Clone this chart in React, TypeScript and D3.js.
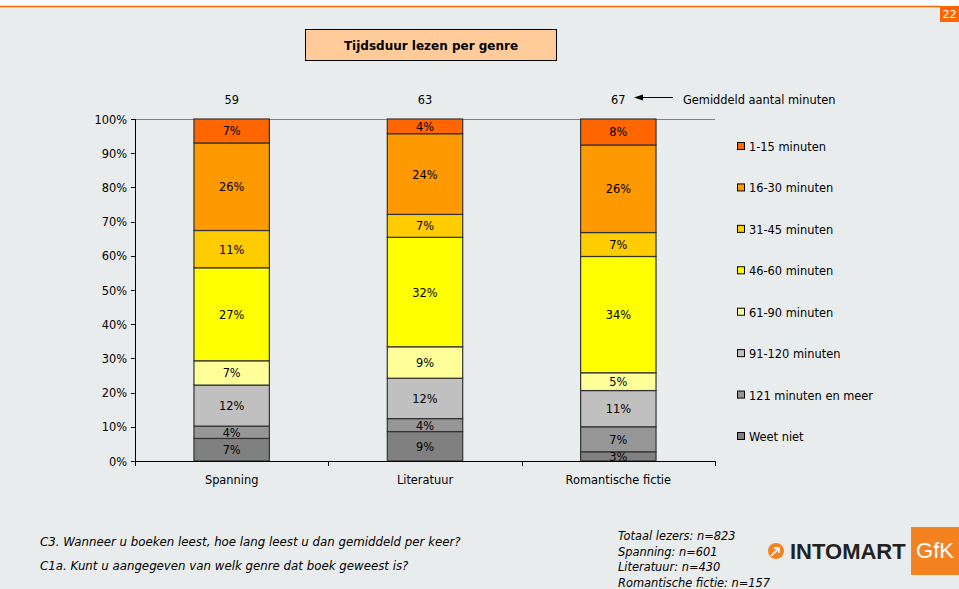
import React from "react";
import * as d3 from "d3";

const categories = ["Spanning", "Literatuur", "Romantische fictie"];
const averageMinutes = [59, 63, 67];
const seriesNames = [
  "Weet niet",
  "121 minuten en meer",
  "91-120 minuten",
  "61-90 minuten",
  "46-60 minuten",
  "31-45 minuten",
  "16-30 minuten",
  "1-15 minuten",
];
// percentage per series (bottom to top), one row per genre
const spanning = [6.6, 3.6, 12.0, 7.1, 27.2, 10.9, 25.6, 7.0];
const literatuur = [8.6, 3.8, 11.8, 9.2, 32.0, 6.7, 23.6, 4.3];
const romantisch = [2.7, 7.3, 10.6, 5.2, 34.0, 7.0, 25.6, 7.6];
const seriesColors = [
  "#808080",
  "#969696",
  "#C0C0C0",
  "#FFFF99",
  "#FFFF00",
  "#FFCC00",
  "#FF9900",
  "#FF6600",
];
const yTicks = [0, 10, 20, 30, 40, 50, 60, 70, 80, 90, 100];
const questions = [
  "C3. Wanneer u boeken leest, hoe lang leest u dan gemiddeld per keer?",
  "C1a. Kunt u aangegeven van welk genre dat boek geweest is?",
];
const sampleSizes = [
  "Totaal lezers: n=823",
  "Spanning: n=601",
  "Literatuur: n=430",
  "Romantische fictie: n=157",
];

const W = 959;
const H = 589;
const FONT = "'DejaVu Sans', Verdana, sans-serif";
const FS = 11.4;

export default function App() {
  const rows = [spanning, literatuur, romantisch];
  const table = categories.map((c, i) => {
    const o: Record<string, any> = { cat: c };
    seriesNames.forEach((s, j) => (o[s] = rows[i][j]));
    return o;
  });
  const stacked = d3.stack().keys(seriesNames)(table as any);

  const plot = { left: 135, right: 715, top: 119, bottom: 461 };
  const x = d3
    .scaleBand()
    .domain(categories)
    .range([plot.left, plot.right])
    .paddingInner(0.61)
    .paddingOuter(0.305);
  const y = d3.scaleLinear().domain([0, 100]).range([plot.bottom, plot.top]);
  const band = (plot.right - plot.left) / categories.length;
  const fmt = (v: number) => `${Math.round(v)}%`;

  const legendY = d3
    .scalePoint()
    .domain([...seriesNames].reverse())
    .range([147, 437]);

  return (
    <svg
      width={W}
      height={H}
      style={{ position: "absolute", left: 0, top: 0, display: "block" }}
      fontFamily={FONT}
    >
      <rect x={0} y={0} width={W} height={H} fill="#ffffff" />
      <rect x={0} y={7} width={W} height={H - 7} fill="#E9ECEC" />
      <line x1={0} x2={940} y1={6.5} y2={6.5} stroke="#FF6600" strokeWidth={1.5} />
      <rect x={940} y={6} width={19} height={16} fill="#FF6600" />
      <text x={949.5} y={18} textAnchor="middle" fontSize={11} fill="#ffffff">
        22
      </text>

      {/* title */}
      <rect x={305.5} y={29.5} width={251} height={31} fill="#FFCC99" stroke="#000" strokeWidth={1} />
      <text x={431} y={50} textAnchor="middle" fontSize={12} fontWeight="bold" fill="#000">
        Tijdsduur lezen per genre
      </text>

      {/* average minutes */}
      {categories.map((c, i) => (
        <text key={c} x={x(c)! + x.bandwidth() / 2} y={104} textAnchor="middle" fontSize={FS} fill="#000">
          {averageMinutes[i]}
        </text>
      ))}
      <line x1={640} x2={673} y1={97.5} y2={97.5} stroke="#000" strokeWidth={1} />
      <path d="M634,97.5 L643,94.5 L643,100.5 Z" fill="#000" />
      <text x={683} y={104} fontSize={FS} fill="#000">
        Gemiddeld aantal minuten
      </text>

      {/* plot frame */}
      <line x1={plot.left} x2={plot.right} y1={plot.top + 0.5} y2={plot.top + 0.5} stroke="#808080" strokeWidth={1} />

      {/* bars */}
      {stacked.map((s, si) =>
        s.map((d, ci) => {
          const cat = categories[ci];
          const y0 = y(d[0]);
          const y1 = y(d[1]);
          const v = d[1] - d[0];
          const cx = x(cat)! + x.bandwidth() / 2;
          return (
            <g key={`${si}-${ci}`}>
              <rect
                x={x(cat)}
                y={y1}
                width={x.bandwidth()}
                height={y0 - y1}
                fill={seriesColors[si]}
                stroke="#333"
                strokeWidth={1.2}
              />
              <text x={cx} y={(y0 + y1) / 2 + 4.5} textAnchor="middle" fontSize={FS} fill="#000">
                {fmt(v)}
              </text>
            </g>
          );
        })
      )}

      {/* y axis */}
      <line x1={plot.left + 0.5} x2={plot.left + 0.5} y1={plot.top} y2={plot.bottom} stroke="#000" />
      {yTicks.map((t) => (
        <g key={t}>
          <line x1={plot.left - 4} x2={plot.left} y1={Math.round(y(t)) + 0.5} y2={Math.round(y(t)) + 0.5} stroke="#000" />
          <text x={plot.left - 8} y={y(t) + 4.5} textAnchor="end" fontSize={FS} fill="#000">
            {t}%
          </text>
        </g>
      ))}

      {/* x axis */}
      <line x1={plot.left} x2={plot.right} y1={plot.bottom + 0.5} y2={plot.bottom + 0.5} stroke="#000" />
      {d3.range(categories.length + 1).map((i) => (
        <line
          key={i}
          x1={Math.round(plot.left + band * i) + 0.5}
          x2={Math.round(plot.left + band * i) + 0.5}
          y1={plot.bottom}
          y2={plot.bottom + 5}
          stroke="#000"
        />
      ))}
      {categories.map((c) => (
        <text key={c} x={x(c)! + x.bandwidth() / 2} y={484} textAnchor="middle" fontSize={FS} fill="#000">
          {c}
        </text>
      ))}

      {/* legend */}
      {[...seriesNames].reverse().map((s) => {
        const idx = seriesNames.indexOf(s);
        const ly = legendY(s)!;
        return (
          <g key={s}>
            <rect x={737.5} y={ly - 4.5} width={7} height={7} fill={seriesColors[idx]} stroke="#000" strokeWidth={1} />
            <text x={749} y={ly + 4} fontSize={FS} fill="#000">
              {s}
            </text>
          </g>
        );
      })}

      {/* questions */}
      {questions.map((q, i) => (
        <text key={q} x={40} y={546 + i * 24} fontSize={11.8} fontStyle="italic" fill="#000">
          {q}
        </text>
      ))}
      {sampleSizes.map((s, i) => (
        <text key={s} x={618} y={540 + i * 15.5} fontSize={11.4} fontStyle="italic" fill="#000">
          {s}
        </text>
      ))}

      {/* logo */}
      <circle cx={776} cy={551} r={8} fill="#F58220" />
      <path d="M771,556 L778,549 M774,548 L779,548 L779,553" stroke="#E9ECEC" strokeWidth={2} fill="none" />
      <text x={790} y={559} fontSize={22} fontWeight="bold" fill="#222" fontFamily="'Liberation Sans', Arial, sans-serif">
        INTOMART
      </text>
      <rect x={911} y={527} width={48} height={48} fill="#F58220" />
      <text x={935} y={558} textAnchor="middle" fontSize={22} fill="#ffffff" fontFamily="'Liberation Sans', Arial, sans-serif">
        GfK
      </text>
    </svg>
  );
}
